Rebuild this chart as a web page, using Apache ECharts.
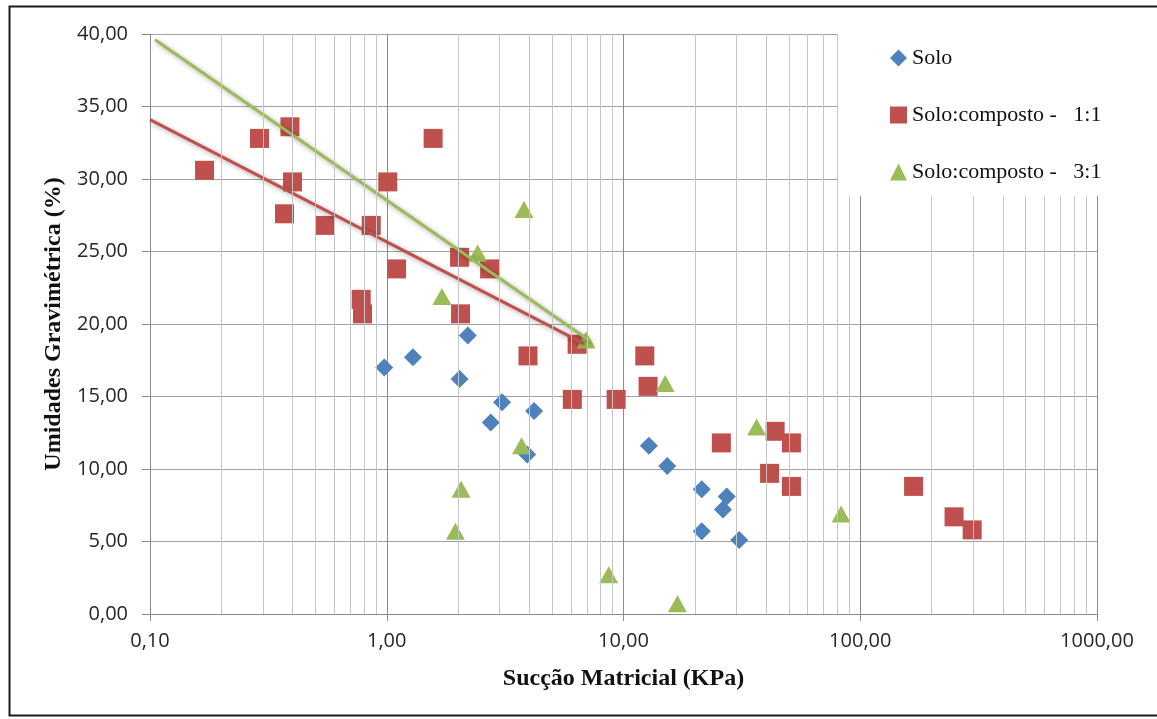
<!DOCTYPE html>
<html><head><meta charset="utf-8">
<script src="https://cdn.jsdelivr.net/npm/echarts@6/dist/echarts.min.js"></script>
<style>html,body{margin:0;padding:0;background:#fff}#c{width:1157px;height:719px}</style>
</head><body><div id="c"></div>
<script>
// ---- data ----
const seriesNames = ['Solo', 'Solo:composto -   1:1', 'Solo:composto -   3:1'];
const soloX = [0.976, 1.29, 2.20, 2.03, 3.07, 2.75, 4.19, 3.92, 12.8, 15.3, 21.4, 27.3, 26.3, 21.4, 30.8];
const soloY = [17.0, 17.7, 19.2, 16.2, 14.6, 13.2, 14.0, 11.0, 11.6, 10.2, 8.6, 8.1, 7.2, 5.7, 5.1];
const mix11X = [0.17, 0.29, 0.39, 0.40, 0.37, 0.55, 0.86, 1.57, 1.01, 1.10, 0.78, 0.79, 2.03, 2.72, 2.05, 3.95, 6.37, 6.08, 9.31, 12.3, 12.7, 25.9, 43.7, 51.2, 41.4, 51.2, 168, 249, 297];
const mix11Y = [30.6, 32.8, 33.6, 29.8, 27.6, 26.8, 26.8, 32.8, 29.8, 23.8, 21.7, 20.7, 24.6, 23.8, 20.7, 17.8, 18.6, 14.8, 14.8, 17.8, 15.7, 11.8, 12.6, 11.8, 9.7, 8.8, 8.8, 6.7, 5.8];
const mix31X = [3.80, 2.42, 1.71, 6.95, 15.0, 3.71, 2.06, 1.95, 8.66, 16.9, 36.5, 83.0];
const mix31Y = [27.9, 24.9, 21.9, 18.9, 15.9, 11.6, 8.6, 5.7, 2.7, 0.7, 12.9, 6.9];
const trend11X = [0.1, 6.8];
const trend11Y = [34.1, 18.65];
const trend31X = [0.105, 7.2];
const trend31Y = [39.6, 18.85];
const minorGridX = [0.2,0.3,0.4,0.5,0.6,0.7,0.8,0.9, 2,3,4,5,6,7,8,9, 20,30,40,50,60,70,80,90, 200,300,400,500,600,700,800,900];
const xTitle = 'Sucção Matricial (KPa)';
const yTitle = 'Umidades Gravimétrica (%)';

const zip = (a, b) => a.map((v, i) => [v, b[i]]);
const fmt = v => Number(v).toFixed(2).replace('.', ',');
const BLUE = '#4F81BD', RED = '#C0504D', GREEN = '#9BBB59';
const labelFont = "'Open Sans', sans-serif";
const serif = "'Liberation Serif', 'Times New Roman', serif";

const chart = echarts.init(document.getElementById('c'), null, {renderer: 'canvas'});
chart.setOption({
  animation: false,
  backgroundColor: '#fff',
  grid: {left: 150, right: 60, top: 34, bottom: 105},
  xAxis: {
    type: 'log', logBase: 10, min: 0.1, max: 1000,
    name: xTitle, nameLocation: 'middle', nameGap: 53,
    nameTextStyle: {fontFamily: serif, fontWeight: 'bold', fontSize: 24, color: '#111'},
    axisLine: {show: true, lineStyle: {color: '#8a8a8a', width: 1}},
    axisTick: {show: true, length: 7, lineStyle: {color: '#8a8a8a'}},
    axisLabel: {formatter: fmt, fontFamily: labelFont, fontSize: 20, color: '#262626', margin: 17},
    splitLine: {show: true, lineStyle: {color: '#8c8c8c', width: 1}}
  },
  yAxis: {
    type: 'value', min: 0, max: 40, interval: 5,
    name: yTitle, nameLocation: 'middle', nameGap: 84, nameRotate: 90,
    nameTextStyle: {fontFamily: serif, fontWeight: 'bold', fontSize: 24, color: '#111'},
    axisLine: {show: true, lineStyle: {color: '#8a8a8a', width: 1}},
    axisTick: {show: true, length: 8, lineStyle: {color: '#8a8a8a'}},
    axisLabel: {formatter: fmt, fontFamily: labelFont, fontSize: 20, color: '#262626', margin: 22},
    splitLine: {show: true, lineStyle: {color: '#a0a0a0', width: 1}}
  },
  legend: {
    orient: 'vertical', left: 885, top: 42, z: 20,
    itemWidth: 17, itemHeight: 17, itemGap: 35,
    textStyle: {fontFamily: serif, fontSize: 22, color: '#111', lineHeight: 22},
    data: [
      {name: seriesNames[0], icon: 'diamond'},
      {name: seriesNames[1], icon: 'rect'},
      {name: seriesNames[2], icon: 'triangle'}
    ]
  },
  graphic: [
    {type: 'rect', left: 838, top: 22, z: 10, shape: {width: 330, height: 174}, style: {fill: '#fff'}},
    {type: 'rect', left: 7, top: 4, z: 30, shape: {width: 1162, height: 709}, style: {fill: 'none', stroke: '#1a1a1a', lineWidth: 2}}
  ],
  series: [
    {
      type: 'line', data: [], z: 1, silent: true,
      markLine: {
        silent: true, symbol: 'none', label: {show: false},
        lineStyle: {color: '#c4c4c4', width: 1, type: 'solid'},
        data: minorGridX.map(v => ({xAxis: v}))
      }
    },
    {name: seriesNames[0], type: 'scatter', symbol: 'diamond', symbolSize: 18, itemStyle: {color: BLUE, opacity: 1}, data: zip(soloX, soloY), z: 3},
    {name: seriesNames[1], type: 'scatter', symbol: 'rect', symbolSize: 19, itemStyle: {color: RED, opacity: 1}, data: zip(mix11X, mix11Y), z: 3},
    {name: seriesNames[2], type: 'scatter', symbol: 'triangle', symbolSize: [19, 17], itemStyle: {color: GREEN, opacity: 1}, data: zip(mix31X, mix31Y), z: 3},
    {name: 'trend11', type: 'line', data: zip(trend11X, trend11Y), symbol: 'none', z: 4, silent: true,
      lineStyle: {color: RED, width: 3, shadowColor: 'rgba(0,0,0,0.35)', shadowBlur: 5, shadowOffsetX: 2, shadowOffsetY: 2}},
    {name: 'trend31', type: 'line', data: zip(trend31X, trend31Y), symbol: 'none', z: 4, silent: true,
      lineStyle: {color: GREEN, width: 3, shadowColor: 'rgba(0,0,0,0.35)', shadowBlur: 5, shadowOffsetX: 2, shadowOffsetY: 2}}
  ]
});
</script>
</body></html>
